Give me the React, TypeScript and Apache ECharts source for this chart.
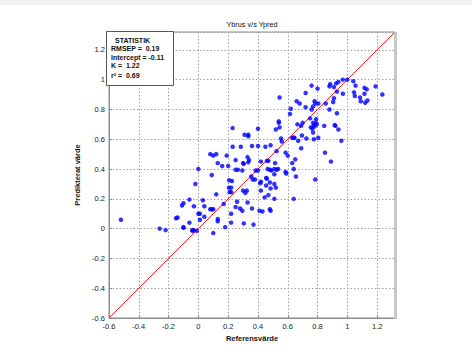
import React, { useEffect, useRef } from 'react';
import * as echarts from 'echarts';

// [Referensvärde, Predikterat värde]
const observations: [number, number][] = [
  [-0.52, 0.06], [-0.26, 0.0], [-0.22, -0.01], [-0.15, 0.07], [-0.14, 0.075], [-0.11, 0.155], [-0.1, 0.17],
  [-0.06, 0.195], [-0.1, 0.01], [-0.1, 0.005], [-0.06, 0.04], [-0.04, -0.01], [-0.04, -0.015], [-0.03, -0.01],
  [-0.01, -0.015], [-0.03, 0.15], [-0.02, 0.3], [0.0, 0.4], [0.0, 0.1], [0.01, 0.1], [0.01, 0.06], [0.04, 0.08],
  [0.03, 0.19], [0.04, 0.15], [0.08, 0.13], [0.09, 0.13], [0.1, 0.13], [0.09, 0.36], [0.1, -0.03], [0.12, 0.23],
  [0.13, 0.05], [0.13, 0.065], [0.13, 0.44], [0.08, 0.5], [0.1, 0.49], [0.12, 0.5], [0.16, 0.42], [0.2, 0.42],
  [0.19, 0.49], [0.18, 0.01], [0.17, 0.165], [0.207, 0.325], [0.205, 0.275], [0.22, 0.275], [0.21, 0.245], [0.22, 0.245],
  [0.85, 0.51], [0.89, 0.45], [0.585, 0.51], [0.6, 0.49], [0.33, 0.48], [0.25, 0.46], [0.34, 0.46], [0.3, 0.44],
  [0.305, 0.435], [0.335, 0.445], [0.42, 0.45], [0.46, 0.455], [0.47, 0.455], [0.515, 0.44], [0.63, 0.44], [0.65, 0.465],
  [0.25, 0.395], [0.265, 0.395], [0.295, 0.39], [0.385, 0.39], [0.4, 0.39], [0.465, 0.4], [0.48, 0.395], [0.49, 0.39],
  [0.51, 0.4], [0.525, 0.395], [0.535, 0.4], [0.51, 0.365], [0.585, 0.38], [0.59, 0.37], [0.64, 0.4], [0.655, 0.35],
  [0.785, 0.33], [0.355, 0.35], [0.365, 0.33], [0.38, 0.33], [0.225, 0.32], [0.415, 0.305], [0.42, 0.315], [0.455, 0.34],
  [0.46, 0.335], [0.48, 0.31], [0.51, 0.3], [0.52, 0.275], [0.455, 0.29], [0.485, 0.27], [0.3, 0.255], [0.325, 0.255],
  [0.315, 0.24], [0.42, 0.255], [0.47, 0.225], [0.445, 0.21], [0.51, 0.2], [0.64, 0.2], [0.26, 0.18], [0.33, 0.175],
  [0.25, 0.145], [0.22, 0.1], [0.28, 0.135], [0.295, 0.12], [0.36, 0.135], [0.41, 0.12], [0.43, 0.115], [0.48, 0.13],
  [0.485, 0.12], [0.305, 0.035], [0.37, 0.027], [0.22, 0.04],
  [0.76, 0.96], [0.8, 0.94], [0.72, 0.91], [0.88, 0.955], [0.885, 0.97], [0.91, 0.95], [0.925, 0.975], [0.94, 0.985],
  [0.97, 1.0], [1.0, 1.0], [1.04, 0.99], [1.055, 0.96], [1.115, 0.945], [1.13, 0.935], [1.19, 0.955], [1.235, 0.9],
  [1.045, 0.915], [1.05, 0.89], [1.085, 0.88], [1.09, 0.855], [1.115, 0.905], [1.12, 0.845], [1.135, 0.86], [0.97, 0.905],
  [0.93, 0.92], [0.91, 0.875], [0.905, 0.85], [0.855, 0.84], [0.805, 0.84], [0.78, 0.855], [0.785, 0.84], [0.88, 0.8],
  [0.93, 0.775], [0.77, 0.82], [0.76, 0.8], [0.72, 0.815], [0.66, 0.855], [0.68, 0.84], [0.545, 0.88], [0.62, 0.805],
  [0.615, 0.77], [0.75, 0.74], [0.79, 0.735], [0.77, 0.71], [0.79, 0.71], [0.775, 0.695], [0.795, 0.7], [0.78, 0.685],
  [0.7, 0.71], [0.69, 0.69], [0.665, 0.7], [0.54, 0.72], [0.54, 0.71], [0.545, 0.68], [0.52, 0.665], [0.755, 0.68],
  [0.765, 0.67], [0.77, 0.645], [0.845, 0.69], [0.915, 0.695], [0.92, 0.69], [0.94, 0.665], [0.805, 0.61], [0.775, 0.6],
  [0.725, 0.605], [0.695, 0.625], [0.67, 0.59], [0.64, 0.61], [0.645, 0.61], [0.63, 0.61], [0.555, 0.605], [0.56, 0.585],
  [0.96, 0.59], [0.485, 0.56], [0.525, 0.52], [0.45, 0.55], [0.4, 0.555], [0.36, 0.555], [0.285, 0.55], [0.23, 0.55],
  [0.4, 0.67], [0.31, 0.63], [0.335, 0.63], [0.335, 0.62], [0.23, 0.675], [0.69, 0.54],
];

const axisRange = [-0.6, 1.32];
const identityLine: [number, number][] = [[-0.6, -0.6], [1.32, 1.32]];
const chartTitle = 'Ybrus v/s Ypred';
const xName = 'Referensvärde';
const yName = 'Predikterat värde';
const statTitle = 'STATISTIK';
const statLines = ['RMSEP =  0.19', 'Intercept = -0.11', 'K =  1.22', 'r² =  0.69'];

const FONT = '"Liberation Sans", Arial, Helvetica, sans-serif';

export default function App() {
  const ref = useRef<HTMLDivElement>(null);
  useEffect(() => {
    const chart = echarts.init(ref.current!, null, { renderer: 'svg' });
    const fmt = (v: number) => String(Math.round(v * 10) / 10);
    const axisCommon = {
      type: 'value',
      min: axisRange[0],
      max: axisRange[1],
      interval: 0.2,
      nameLocation: 'middle',
      nameTextStyle: { fontFamily: FONT, fontSize: 7.5, fontWeight: 'bold', color: '#111' },
      axisLine: { show: true, onZero: false, lineStyle: { color: '#8c8c8c', width: 1 } },
      axisTick: { show: true, inside: true, length: 3, lineStyle: { color: '#8c8c8c' } },
      axisLabel: { showMaxLabel: false, fontFamily: FONT, fontSize: 7.5, color: '#1a1a1a', formatter: fmt, margin: 4 },
      splitLine: { show: true, lineStyle: { color: '#a0a0a0', width: 1, type: [1.5, 2] } },
    };
    const boxZ = 100;
    chart.setOption({
      animation: false,
      backgroundColor: '#ffffff',
      grid: { left: 109, top: 32, width: 286, height: 286, show: true, borderColor: '#8c8c8c', borderWidth: 1, backgroundColor: '#fff' },
      xAxis: { ...axisCommon, name: xName, nameGap: 13 },
      yAxis: { ...axisCommon, name: yName, nameGap: 19 },
      series: [
        {
          type: 'line',
          data: identityLine,
          symbol: 'none',
          lineStyle: { color: '#ff2020', width: 1 },
          z: 3,
        },
        {
          type: 'scatter',
          data: observations,
          symbol: 'circle',
          symbolSize: 4.5,
          itemStyle: { color: '#0000ff' },
          z: 4,
        },
      ],
      graphic: [
        { type: 'rect', left: 0, top: 0, z: boxZ, shape: { width: 472, height: 5 }, style: { fill: '#f0f0f0' }, silent: true },
        { type: 'rect', left: 394, top: 32, z: boxZ, shape: { width: 3, height: 287 }, style: { fill: '#c8c8c8' }, silent: true },
        {
          type: 'text', x: 252, y: 24.5, z: boxZ,
          style: { text: chartTitle, fontFamily: FONT, fontSize: 7.3, fill: '#111', align: 'center', verticalAlign: 'middle' },
        },
        {
          type: 'rect', z: boxZ, shape: { x: 106.5, y: 31.5, width: 67, height: 54 },
          style: { fill: '#ffffff', stroke: '#555', lineWidth: 1 },
        },
        {
          type: 'text', x: 115, y: 40, z: boxZ + 1,
          style: { text: statTitle, fontFamily: FONT, fontSize: 7, fontWeight: 'bold', fill: '#111', verticalAlign: 'middle' },
        },
        ...statLines.map((t, i) => ({
          type: 'text', x: 111, y: 48.6 + i * 8.6 + (i === 3 ? 0.6 : 0), z: boxZ + 1,
          style: { text: t, fontFamily: FONT, fontSize: 7, fontWeight: 'bold', fill: '#111', verticalAlign: 'middle' },
        })),
      ],
    });
    return () => chart.dispose();
  }, []);
  return <div ref={ref} style={{ position: 'absolute', left: 0, top: 0, width: 472, height: 356 }} />;
}
